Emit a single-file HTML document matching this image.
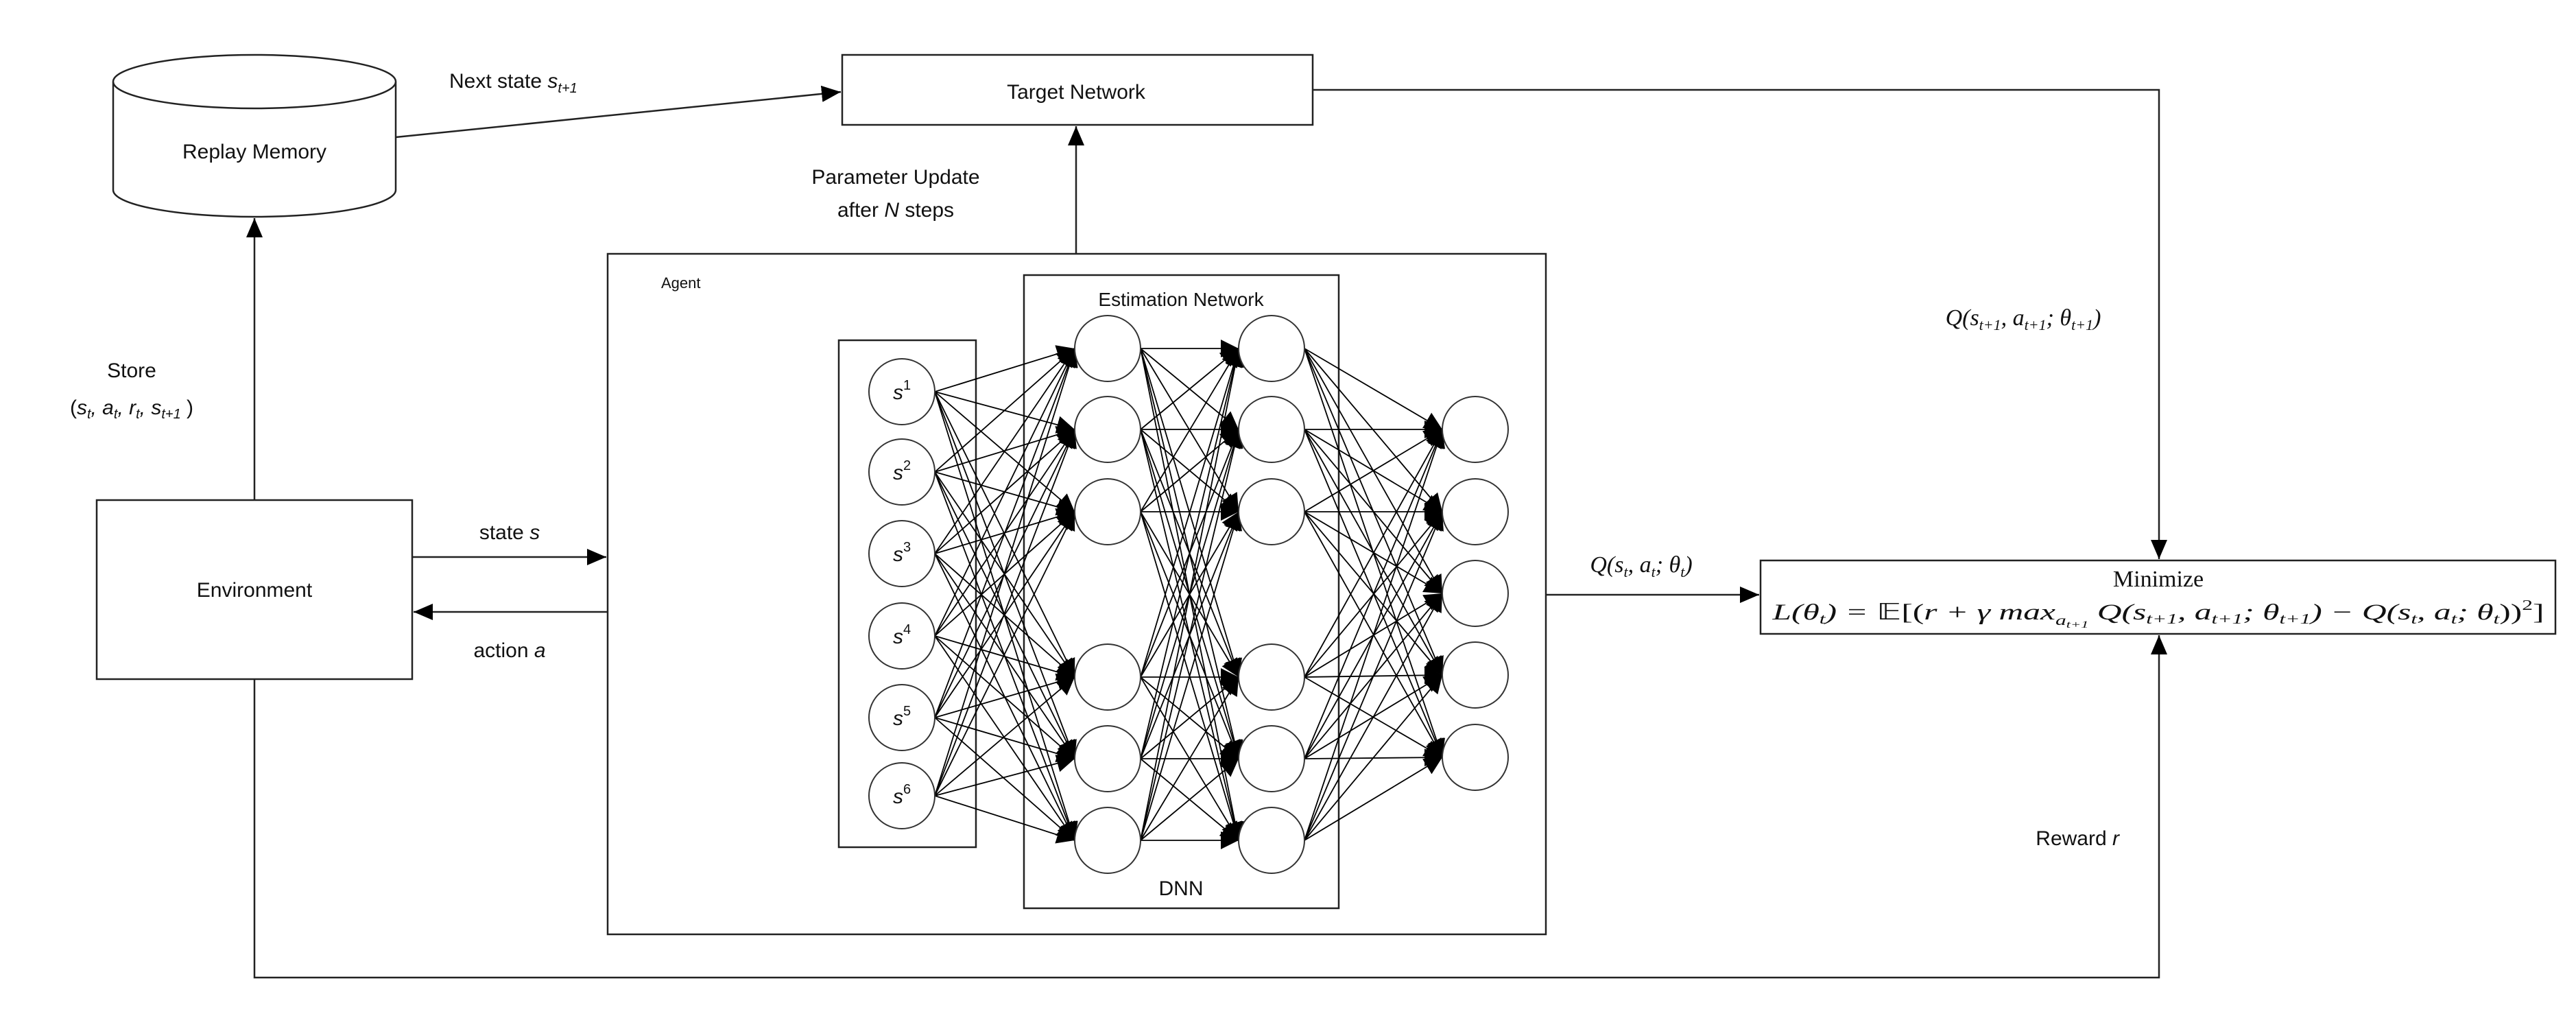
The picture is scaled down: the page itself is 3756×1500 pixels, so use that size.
<!DOCTYPE html>
<html><head><meta charset="utf-8">
<style>
html,body{margin:0;padding:0;background:#fff;}
svg{display:block;}
text{font-family:"Liberation Sans",sans-serif;fill:#111;}
.m{font-family:"Liberation Serif",serif;font-style:italic;}
</style></head><body>
<svg id="s" width="3756" height="1500" viewBox="0 0 3756 1500" xmlns="http://www.w3.org/2000/svg">
<defs>
<marker id="a" markerUnits="userSpaceOnUse" markerWidth="30" markerHeight="30" refX="28" refY="12" orient="auto"><path d="M0,0 L28,12 L0,24 z" fill="#000"/></marker>
<marker id="b" markerUnits="userSpaceOnUse" markerWidth="30" markerHeight="30" refX="26" refY="13" orient="auto"><path d="M0,0 L26,13 L0,26 z" fill="#000"/></marker>
</defs>
<g fill="none" stroke="#222" stroke-width="2.5">
<!-- replay memory cylinder -->
<path d="M165,119 L165,277 A206,39 0 0 0 577,277 L577,119" fill="#fff"/>
<ellipse cx="371" cy="119" rx="206" ry="39" fill="#fff"/>
<!-- target network -->
<rect x="1228" y="80" width="686" height="102" fill="#fff"/>
<!-- environment -->
<rect x="141" y="729" width="460" height="261" fill="#fff"/>
<!-- agent -->
<rect x="886" y="370" width="1368" height="992"/>
<!-- estimation network -->
<rect x="1493" y="401" width="459" height="923"/>
<!-- input box -->
<rect x="1223" y="496" width="200" height="739"/>
<!-- minimize box -->
<rect x="2567" y="817" width="1159" height="107" fill="#fff"/>
</g>
<g fill="none" stroke="#222" stroke-width="2.5">
<line x1="577" y1="200" x2="1226" y2="134" marker-end="url(#a)"/>
<line x1="371" y1="729" x2="371" y2="318" marker-end="url(#a)"/>
<line x1="1569" y1="370" x2="1569" y2="184" marker-end="url(#a)"/>
<line x1="601" y1="812" x2="884" y2="812" marker-end="url(#a)"/>
<line x1="886" y1="892" x2="603" y2="892" marker-end="url(#a)"/>
<polyline points="371,990 371,1425 3148,1425 3148,926" marker-end="url(#a)"/>
<polyline points="1914,131 3148,131 3148,815" marker-end="url(#a)"/>
<line x1="2254" y1="867" x2="2565" y2="867" marker-end="url(#a)"/>
</g>
<g id="nn" stroke="#000" stroke-width="1.8" fill="none"></g>
<g id="nodes" fill="#fff" stroke="#333" stroke-width="2"></g>
<g font-size="30" text-anchor="middle">
<text x="371" y="231">Replay Memory</text>
<text x="1569" y="144">Target Network</text>
<text x="371" y="870">Environment</text>
<text x="1306" y="268">Parameter Update</text>
<text x="1306" y="316">after <tspan font-style="italic">N</tspan> steps</text>
<text x="1722" y="446" font-size="28">Estimation Network</text>
<text x="1722" y="1305">DNN</text>
<text x="743" y="786">state <tspan font-style="italic">s</tspan></text>
<text x="743" y="958">action <tspan font-style="italic">a</tspan></text>
<text x="192" y="550">Store</text>
<text x="192" y="604">(<tspan font-style="italic">s<tspan font-size="20" dy="6">t</tspan><tspan dy="-6">, a</tspan><tspan font-size="20" dy="6">t</tspan><tspan dy="-6">, r</tspan><tspan font-size="20" dy="6">t</tspan><tspan dy="-6">, s</tspan><tspan font-size="20" dy="6">t+1</tspan></tspan><tspan dy="-6"> )</tspan></text>
</g>
<text x="655" y="128" font-size="30">Next state <tspan font-style="italic">s</tspan><tspan font-size="20" dy="7" font-style="italic">t+1</tspan></text>
<text x="964" y="420" font-size="22">Agent</text>
<text x="3090" y="1232" font-size="30" text-anchor="end">Reward <tspan font-style="italic">r</tspan></text>
<g font-size="30" text-anchor="middle" font-style="italic">
<text x="1315" y="582">s<tspan font-size="20" dy="-14" font-style="normal">1</tspan></text>
<text x="1315" y="699">s<tspan font-size="20" dy="-14" font-style="normal">2</tspan></text>
<text x="1315" y="818">s<tspan font-size="20" dy="-14" font-style="normal">3</tspan></text>
<text x="1315" y="938">s<tspan font-size="20" dy="-14" font-style="normal">4</tspan></text>
<text x="1315" y="1057">s<tspan font-size="20" dy="-14" font-style="normal">5</tspan></text>
<text x="1315" y="1171">s<tspan font-size="20" dy="-14" font-style="normal">6</tspan></text>
</g>
<text class="m" x="2393" y="834" font-size="34" text-anchor="middle">Q(s<tspan font-size="22" dy="7">t</tspan><tspan dy="-7">, a</tspan><tspan font-size="22" dy="7">t</tspan><tspan dy="-7">; θ</tspan><tspan font-size="22" dy="7">t</tspan><tspan dy="-7">)</tspan></text>
<text class="m" x="2950" y="474" font-size="34" text-anchor="middle">Q(s<tspan font-size="22" dy="7">t+1</tspan><tspan dy="-7">, a</tspan><tspan font-size="22" dy="7">t+1</tspan><tspan dy="-7">; θ</tspan><tspan font-size="22" dy="7">t+1</tspan><tspan dy="-7">)</tspan></text>
<text x="3147" y="855" font-size="34" text-anchor="middle" style="font-family:'Liberation Serif',serif">Minimize</text>
<text class="m" x="3147" y="903" font-size="33" text-anchor="middle" textLength="1125" lengthAdjust="spacingAndGlyphs">L(θ<tspan font-size="21" dy="6">t</tspan><tspan dy="-6">) = </tspan><tspan font-style="normal">𝔼[(</tspan>r + γ max<tspan font-size="21" dy="8">a</tspan><tspan font-size="15" dy="4">t+1</tspan><tspan dy="-12"> Q(s</tspan><tspan font-size="21" dy="6">t+1</tspan><tspan dy="-6">, a</tspan><tspan font-size="21" dy="6">t+1</tspan><tspan dy="-6">; θ</tspan><tspan font-size="21" dy="6">t+1</tspan><tspan dy="-6">) − Q(s</tspan><tspan font-size="21" dy="6">t</tspan><tspan dy="-6">, a</tspan><tspan font-size="21" dy="6">t</tspan><tspan dy="-6">; θ</tspan><tspan font-size="21" dy="6">t</tspan><tspan dy="-6" font-style="normal">))</tspan><tspan font-size="21" dy="-14" font-style="normal">2</tspan><tspan dy="14" font-style="normal">]</tspan></text>
</svg>
<script>
(function(){
var NS="http://www.w3.org/2000/svg";
var nn=document.getElementById("nn"),nodes=document.getElementById("nodes");
var r=48;
var inY=[571,688,807,927,1046,1160];
var hY=[508,626,746,987,1106,1225];
var oY=[626,746,865,984,1104];
var L=[{x:1315,y:inY},{x:1615,y:hY},{x:1854,y:hY},{x:2151,y:oY}];
function ln(x1,y1,x2,y2){var e=document.createElementNS(NS,"line");e.setAttribute("x1",x1);e.setAttribute("y1",y1);e.setAttribute("x2",x2);e.setAttribute("y2",y2);e.setAttribute("marker-end","url(#b)");nn.appendChild(e);}
for(var k=0;k<3;k++){var A=L[k],B=L[k+1];
for(var i=0;i<A.y.length;i++)for(var j=0;j<B.y.length;j++)ln(A.x+r,A.y[i],B.x-r,B.y[j]);}
for(var k=0;k<4;k++){for(var i=0;i<L[k].y.length;i++){var c=document.createElementNS(NS,"ellipse");c.setAttribute("cx",L[k].x);c.setAttribute("cy",L[k].y[i]);c.setAttribute("rx",r);c.setAttribute("ry",r);nodes.appendChild(c);}}
})();
</script>
</body></html>
